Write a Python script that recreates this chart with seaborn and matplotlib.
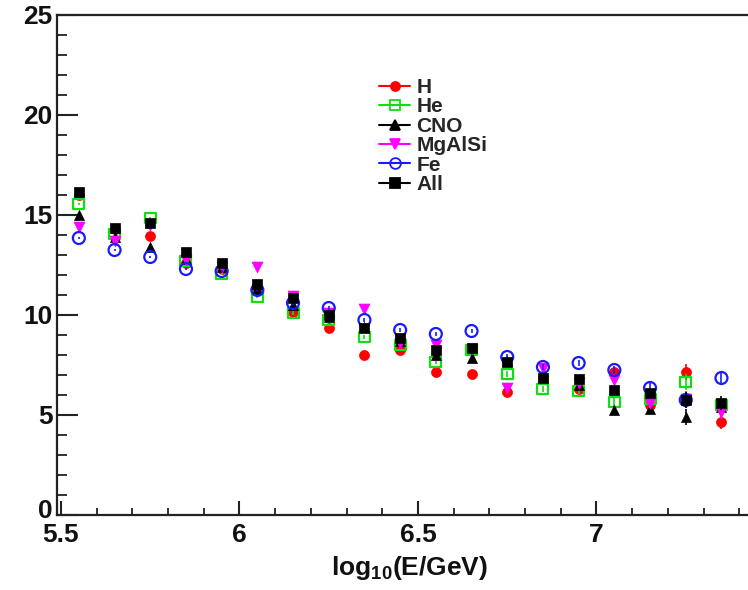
import matplotlib
matplotlib.use("Agg")
import matplotlib.pyplot as plt
import numpy as np
import pandas as pd
import seaborn as sns
from matplotlib.lines import Line2D
from matplotlib.ticker import MultipleLocator
from matplotlib.transforms import ScaledTranslation

# Bin centres in log10(E/GeV)
log_e = [5.55, 5.65, 5.75, 5.85, 5.95, 6.05, 6.15, 6.25, 6.35, 6.45,
         6.55, 6.65, 6.75, 6.85, 6.95, 7.05, 7.15, 7.25, 7.35]

# Values per mass group
h_vals = [16.0, 14.3, 13.95, 12.6, 12.3, 11.3, 10.15, 9.35, 8.0, 8.25,
          7.15, 7.05, 6.15, 6.9, 6.3, 7.15, 5.5, 7.15, 4.65]
he_vals = [15.55, 14.05, 14.85, 12.7, 12.05, 10.9, 10.1, 9.75, 8.9, 8.5,
           7.65, 8.25, 7.05, 6.3, 6.2, 5.65, 5.8, 6.65, 5.5]
cno_vals = [15.0, 13.9, 13.4, 12.8, 12.4, 11.3, 10.5, 9.9, 9.4, 8.7,
            8.0, 7.85, 7.7, 6.9, 6.5, 5.25, 5.3, 4.9, 5.4]
mgalsi_vals = [14.4, 13.7, 14.5, 12.75, 12.4, 12.4, 10.95, 10.1, 10.3, 8.6,
               8.5, 8.3, 6.35, 7.35, 6.6, 6.75, 5.6, 5.8, 5.15]
fe_vals = [13.85, 13.25, 12.9, 12.3, 12.2, 11.25, 10.6, 10.35, 9.75, 9.25,
           9.05, 9.2, 7.9, 7.4, 7.6, 7.25, 6.35, 5.75, 6.85]
all_vals = [16.15, 14.35, 14.6, 13.15, 12.6, 11.55, 10.85, 10.0, 9.35, 8.85,
            8.25, 8.35, 7.65, 6.85, 6.8, 6.25, 6.1, 5.75, 5.6]

# Statistical uncertainty per bin
stat_err = [0.05, 0.05, 0.05, 0.06, 0.06, 0.07, 0.08, 0.08, 0.09, 0.1,
            0.11, 0.12, 0.13, 0.15, 0.17, 0.2, 0.24, 0.4, 0.35]

groups = ["H", "He", "CNO", "MgAlSi", "Fe", "All"]
group_vals = [h_vals, he_vals, cno_vals, mgalsi_vals, fe_vals, all_vals]

df = pd.concat(
    [pd.DataFrame({"log_e": log_e, "value": v, "err": stat_err, "group": g})
     for g, v in zip(groups, group_vals)],
    ignore_index=True,
)

style = {
    "H":      dict(marker="o", color="#ff0000", filled=True,  s=52),
    "He":     dict(marker="s", color="#11dd11", filled=False, s=62),
    "CNO":    dict(marker="^", color="#000000", filled=True,  s=52),
    "MgAlSi": dict(marker="v", color="#ff00ff", filled=True,  s=62),
    "Fe":     dict(marker="o", color="#1a1aff", filled=False, s=74),
    "All":    dict(marker="s", color="#000000", filled=True,  s=62),
}

sns.set_theme(style="ticks")
plt.rcParams["font.family"] = ["Liberation Sans", "DejaVu Sans"]
plt.rcParams["font.weight"] = "bold"
plt.rcParams["mathtext.fontset"] = "custom"
plt.rcParams["mathtext.rm"] = "Liberation Sans:bold"
plt.rcParams["mathtext.it"] = "Liberation Sans:bold"
plt.rcParams["mathtext.bf"] = "Liberation Sans:bold"

W, H = 748, 590
fig = plt.figure(figsize=(W / 100, H / 100), dpi=100)
fig.patch.set_facecolor("white")
ax = fig.add_axes([57 / W, 75 / H, (W - 57) / W, 500 / H])
ax.set_facecolor("white")

for i, g in enumerate(groups):
    st = style[g]
    sub = df[df["group"] == g]
    ax.errorbar(sub["log_e"], sub["value"], yerr=sub["err"], fmt="none",
                ecolor=st["color"], elinewidth=1.2, capsize=0, zorder=2 + i)
    if st["filled"]:
        sns.scatterplot(data=sub, x="log_e", y="value", ax=ax, marker=st["marker"],
                        s=st["s"], color=st["color"], edgecolor=st["color"],
                        linewidth=0.5, legend=False, zorder=3 + i)
    else:
        sns.scatterplot(data=sub, x="log_e", y="value", ax=ax, marker=st["marker"],
                        s=st["s"], color=st["color"], facecolor="none",
                        edgecolor=st["color"], linewidth=1.6, legend=False,
                        zorder=3 + i)

x_left = 5.5 - 4 / 357
x_right = 5.5 + (W - 61) / 357
ax.set_xlim(x_left, x_right)
ax.set_ylim(0, 25)

ax.xaxis.set_major_locator(MultipleLocator(0.5))
ax.xaxis.set_minor_locator(MultipleLocator(0.1))
ax.yaxis.set_major_locator(MultipleLocator(5))
ax.yaxis.set_minor_locator(MultipleLocator(1))
ax.set_xticks([5.5, 6, 6.5, 7])
ax.set_xticklabels(["5.5", "6", "6.5", "7"])

for side in ["left", "bottom", "top"]:
    ax.spines[side].set_linewidth(1.6)
    ax.spines[side].set_color("#222222")
ax.spines["right"].set_visible(False)

ax.tick_params(axis="y", which="major", direction="in", length=15, width=1.5,
               labelsize=19, pad=3, colors="#222222")
ax.tick_params(axis="y", which="minor", direction="in", length=7.5, width=1.3,
               colors="#222222")
ax.tick_params(axis="x", which="major", direction="in", length=10, width=1.5,
               labelsize=19, pad=6, colors="#222222")
ax.tick_params(axis="x", which="minor", direction="in", length=5, width=1.3,
               colors="#222222")
for lab in ax.get_xticklabels() + ax.get_yticklabels():
    lab.set_fontweight("bold")
    lab.set_color("#111111")

# Lift the "0" of the y axis a little so it sits above the "5.5" below it
fig.canvas.draw()
for lab in ax.get_yticklabels():
    if lab.get_text() == "0":
        lab.set_transform(lab.get_transform() + ScaledTranslation(0, 5 / 72, fig.dpi_scale_trans))

ax.set_ylabel("")
ax.set_xlabel(r"log$_{10}$(E/GeV)", fontsize=19, fontweight="bold", color="#111111")
ax.xaxis.set_label_coords((410 - 57) / (W - 57), -0.078)

handles = [
    Line2D([0], [0], color=style[g]["color"], lw=1.5, marker=style[g]["marker"],
           markersize=np.sqrt(style[g]["s"]) * 0.9,
           markerfacecolor=style[g]["color"] if style[g]["filled"] else "none",
           markeredgecolor=style[g]["color"], markeredgewidth=1.3)
    for g in groups
]
leg = ax.legend(handles, groups, loc="upper left",
                bbox_to_anchor=(379 / W, (H - 78) / H),
                bbox_transform=fig.transFigure, frameon=False,
                prop={"weight": "bold", "size": 15},
                handlelength=1.5, handletextpad=0.3, labelspacing=0.02,
                borderpad=0.0, borderaxespad=0.0)

fig.savefig("out.png", dpi=100, facecolor="white")
